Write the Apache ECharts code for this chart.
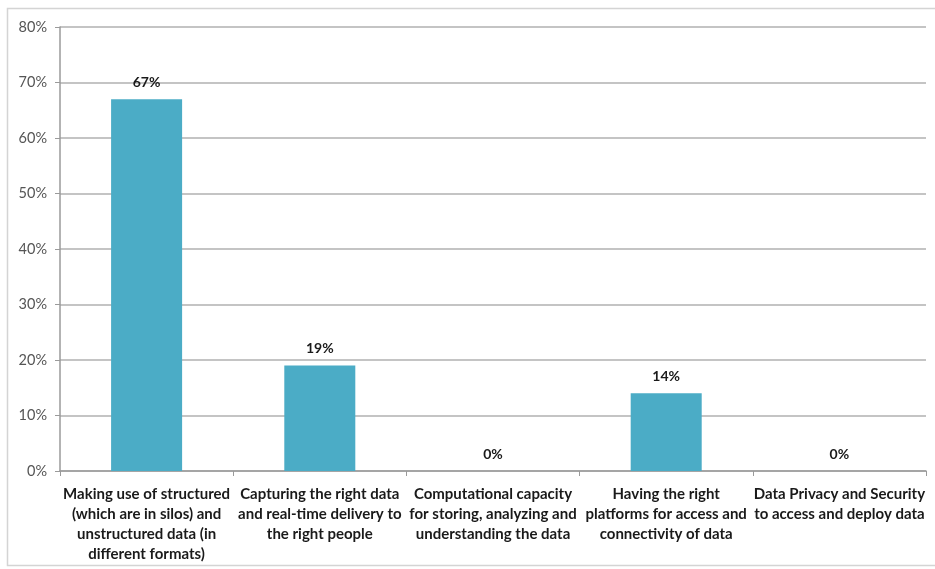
<!DOCTYPE html>
<html>
<head>
<meta charset="utf-8">
<script src="https://cdn.jsdelivr.net/npm/echarts@6/dist/echarts.min.js"></script>
<style>
html,body{margin:0;padding:0;background:#fff;}
#chart{width:935px;height:569px;}
</style>
</head>
<body>
<div id="chart"></div>
<script>
const categories = [
  "Making use of structured\n(which are in silos) and\nunstructured data (in\ndifferent formats)",
  "Capturing the right data\nand real-time delivery to\nthe right people",
  "Computational capacity\nfor storing, analyzing and\nunderstanding the data",
  "Having the right\nplatforms for access and\nconnectivity of data",
  "Data Privacy and Security\nto access and deploy data"
];
const values = [67, 19, 0, 14, 0];
const yTicks = [0, 10, 20, 30, 40, 50, 60, 70, 80];

const chart = echarts.init(document.getElementById('chart'));
chart.setOption({
  animation: false,
  backgroundColor: '#ffffff',
  graphic: [{
    type: 'rect',
    shape: { x: 7.5, y: 8.5, width: 940, height: 557 },
    style: { fill: 'none', stroke: '#d4d4d4', lineWidth: 1.5 },
    silent: true
  }],
  grid: { left: 60, right: 9, top: 27, bottom: 98, containLabel: false },
  xAxis: {
    type: 'category',
    data: categories,
    boundaryGap: true,
    axisLine: { show: true, lineStyle: { color: '#9a9a9a', width: 1.5 } },
    axisTick: { show: true, alignWithLabel: false, length: 5, lineStyle: { color: '#9a9a9a' } },
    axisLabel: {
      interval: 0,
      margin: 13,
      color: '#1a1a1a',
      fontFamily: 'Lato',
      fontWeight: 'bold',
      fontSize: 15,
      lineHeight: 20,
      align: 'center'
    }
  },
  yAxis: {
    type: 'value',
    min: yTicks[0],
    max: yTicks[yTicks.length - 1],
    interval: 10,
    axisLine: { show: true, lineStyle: { color: '#9a9a9a', width: 1.5 } },
    axisTick: { show: true, length: 5, lineStyle: { color: '#9a9a9a' } },
    axisLabel: {
      formatter: v => v + '%',
      color: '#555555',
      fontFamily: 'Lato',
      fontSize: 14.5,
      margin: 13
    },
    splitLine: { show: true, lineStyle: { color: '#c4c4c4', width: 2 } }
  },
  series: [{
    type: 'bar',
    data: values,
    barWidth: '41%',
    itemStyle: { color: '#4bacc6' },
    label: {
      show: true,
      position: 'top',
      distance: 10,
      formatter: p => p.value + '%',
      color: '#1a1a1a',
      fontFamily: 'Lato',
      fontWeight: 'bold',
      fontSize: 14
    }
  }]
});
</script>
</body>
</html>
